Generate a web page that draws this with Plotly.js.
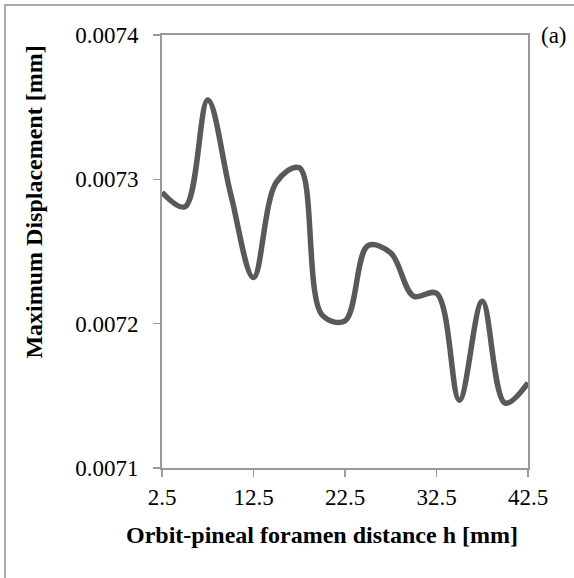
<!DOCTYPE html>
<html>
<head>
<meta charset="utf-8">
<script src="https://cdn.plot.ly/plotly-3.0.1.min.js"></script>
<style>
html,body{margin:0;padding:0;background:#fff;overflow:hidden;width:574px;height:578px;}
#frame{position:absolute;left:4px;top:4px;width:700px;height:700px;border:2px solid #a9a9a9;box-sizing:border-box;}
#chart{position:absolute;left:0;top:0;width:574px;height:578px;}
</style>
</head>
<body>
<div id="frame"></div>
<div id="chart"></div>
<script>
const distances = [2.5, 5, 7.5, 10, 12.5, 15, 17.5, 20, 22.5, 25, 27.5, 30, 32.5, 35, 37.5, 40, 42.5];
const maxDisplacement = [0.007291, 0.007281, 0.007355, 0.007290, 0.007232, 0.007298, 0.007308, 0.007206, 0.007202, 0.007254, 0.007249, 0.007219, 0.007221, 0.007147, 0.0072155, 0.007145, 0.007159];
const xTicks = [2.5, 12.5, 22.5, 32.5, 42.5];
const yTicks = [0.0071, 0.0072, 0.0073, 0.0074];
const xTitle = 'Orbit-pineal foramen distance h [mm]';
const yTitle = 'Maximum Displacement [mm]';
const panelLabel = '(a)';

const font = {family: 'Liberation Serif, Times New Roman, serif', color: '#000'};

Plotly.newPlot('chart', [{
  x: distances,
  y: maxDisplacement,
  type: 'scatter',
  mode: 'lines',
  line: {color: '#595959', width: 5.5, shape: 'spline', smoothing: 1},
  hoverinfo: 'skip'
}], {
  width: 574, height: 578,
  margin: {l: 162, r: 46, t: 35, b: 110},
  paper_bgcolor: 'rgba(0,0,0,0)',
  plot_bgcolor: '#fff',
  showlegend: false,
  font: Object.assign({size: 23}, font),
  xaxis: {
    range: [2.5, 42.5],
    tickvals: xTicks,
    ticktext: xTicks.map(v => v.toFixed(1)),
    ticks: 'outside', ticklen: 7, tickwidth: 1.5, tickcolor: '#999',
    showline: true, linecolor: '#999', linewidth: 2, mirror: true,
    showgrid: false, zeroline: false,
    tickfont: Object.assign({size: 23}, font)
  },
  yaxis: {
    range: [0.0071, 0.0074],
    tickvals: yTicks,
    ticktext: yTicks.map(v => v.toFixed(4)),
    ticks: 'outside', ticklen: 7, tickwidth: 1.5, tickcolor: '#999',
    ticklabelstandoff: 10,
    showline: true, linecolor: '#999', linewidth: 2, mirror: true,
    showgrid: false, zeroline: false,
    tickfont: Object.assign({size: 23}, font)
  },
  annotations: [
    {
      text: '<b>' + xTitle + '</b>', xref: 'paper', yref: 'paper', x: 0.436, y: -0.155,
      xanchor: 'center', yanchor: 'middle', showarrow: false,
      font: Object.assign({size: 24}, font)
    },
    {
      text: '<b>' + yTitle + '</b>', xref: 'paper', yref: 'paper', x: -0.35, y: 0.615,
      xanchor: 'center', yanchor: 'middle', showarrow: false, textangle: -90,
      font: Object.assign({size: 24}, font)
    },
    {
      text: panelLabel, xref: 'paper', yref: 'paper', x: 1.03, y: 1.0,
      xanchor: 'left', yanchor: 'middle', showarrow: false,
      font: Object.assign({size: 23}, font)
    }
  ]
}, {displayModeBar: false, staticPlot: true});
</script>
</body>
</html>
